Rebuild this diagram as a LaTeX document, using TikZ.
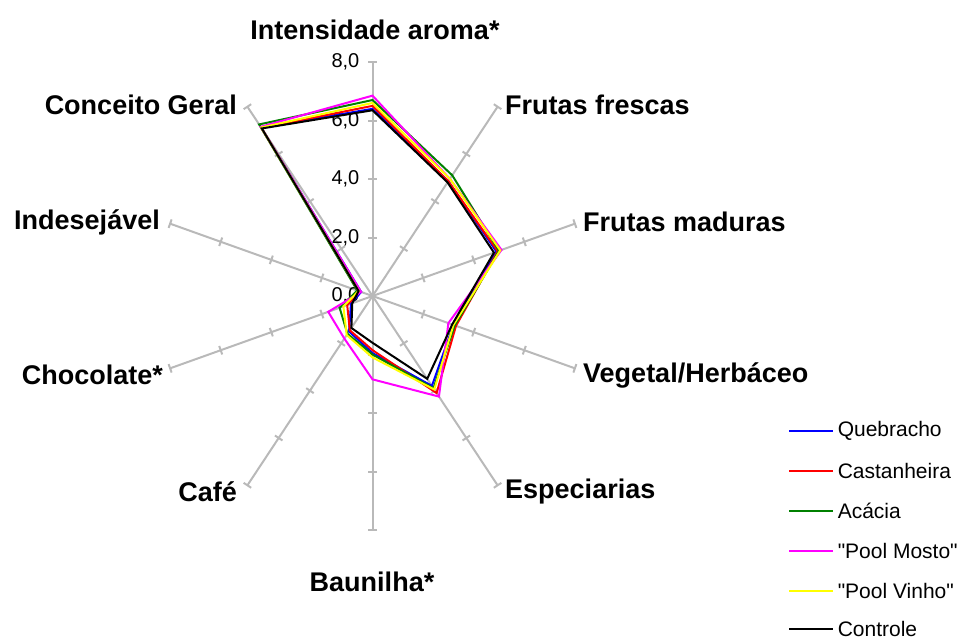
\documentclass[tikz,border=0pt]{standalone}
\usepackage{fontspec}
\setmainfont{Liberation Sans}
\newfontfamily\legendfont{Liberation Sans}
\usepackage{tikz}
\definecolor{quebracho}{RGB}{0,0,255}
\definecolor{castanheira}{RGB}{255,0,0}
\definecolor{acacia}{RGB}{0,128,0}
\definecolor{mosto}{RGB}{255,0,255}
\definecolor{vinho}{RGB}{255,255,0}
\definecolor{gridgray}{RGB}{185,185,185}

\begin{document}
\begin{tikzpicture}[x=1pt, y=-1pt,
		axisline/.style={draw=gridgray, line width=2pt},
		series/.style={line width=2pt, line join=miter},
		axislabel/.style={font=\fontsize{27}{31}\selectfont\bfseries, inner sep=0pt},
		ticklabel/.style={font=\fontsize{20}{23}\selectfont, inner sep=0pt, anchor=east},
		legendtext/.style={font=\legendfont\fontsize{21}{24}\selectfont, text=black, inner sep=0pt, anchor=west}]
	\useasboundingbox (0,0) rectangle (967,642);
	\begin{scope}[shift={(372.5,296)}, x=26.6pt, y=29.25pt]
		% Define axes
		\coordinate (center) at (0,0); % Central point
		\foreach \a in {90,54,18,-18,-54,-90,-126,-162,162,126}{
			\draw[axisline] (center) -- (\a:8);
			\pgfmathsetmacro\sa{atan2(29.25*sin(\a),26.6*cos(\a))}
			\foreach \r in {2,4,6,8}
				\draw[gridgray, line width=2pt] (\a:\r) ++(\sa+90:4.5pt) -- ++(\sa-90:9pt);
		}
		% Scale labels
		\foreach \r in {0,2,4,6,8}
			\node[ticklabel, xshift=-13pt] (tick\r) at (0,\r) {\r,0};
		
		% Series
		\draw[series, quebracho] (90:6.4) -- (54:4.85) -- (18:4.9) -- (-18:3.2) -- (-54:3.8) -- (-90:1.95) -- (-126:1.5) -- (-162:0.85) -- (162:0.45) -- (126:7.1) -- cycle;
		\draw[series, castanheira] (90:6.5) -- (54:4.85) -- (18:4.95) -- (-18:3.3) -- (-54:4.1) -- (-90:1.85) -- (-126:1.45) -- (-162:1.0) -- (162:0.5) -- (126:7.1) -- cycle;
		\draw[series, acacia] (90:6.7) -- (54:5.1) -- (18:5.0) -- (-18:3.25) -- (-54:3.9) -- (-90:2.0) -- (-126:1.6) -- (-162:1.3) -- (162:0.6) -- (126:7.25) -- cycle;
		\draw[series, mosto] (90:6.85) -- (54:4.95) -- (18:5.1) -- (-18:3.0) -- (-54:4.25) -- (-90:2.85) -- (-126:1.8) -- (-162:1.75) -- (162:0.45) -- (126:7.15) -- cycle;
		\draw[series, vinho] (90:6.6) -- (54:4.95) -- (18:5.05) -- (-18:3.2) -- (-54:3.95) -- (-90:2.1) -- (-126:1.65) -- (-162:1.15) -- (162:0.55) -- (126:7.12) -- cycle;
		\draw[series, black] (90:6.35) -- (54:4.8) -- (18:4.8) -- (-18:3.15) -- (-54:3.5) -- (-90:1.6) -- (-126:1.35) -- (-162:0.8) -- (162:0.55) -- (126:7.08) -- cycle;
	\end{scope}
	
	% Axis labels
	\node[axislabel] (aroma) at (375,30) {Intensidade aroma*};
	\node[axislabel, anchor=west] (frescas) at (505,105) {Frutas frescas};
	\node[axislabel, anchor=west] (maduras) at (583,222) {Frutas maduras};
	\node[axislabel, anchor=west] (vegetal) at (583,375) {Vegetal/Herbáceo};
	\node[axislabel, anchor=west] (especiarias) at (505,492) {Especiarias};
	\node[axislabel] (baunilha) at (372,582) {Baunilha*};
	\node[axislabel, anchor=east] (cafe) at (237,492) {Café};
	\node[axislabel, anchor=east] (chocolate) at (163,375) {Chocolate*};
	\node[axislabel, anchor=east] (indesejavel) at (160,222) {Indesejável};
	\node[axislabel, anchor=east] (conceito) at (237,105) {Conceito Geral};
	
	% Legend
	\foreach \y/\col/\name in {431/quebracho/Quebracho, 471/castanheira/Castanheira, 511/acacia/Acácia, 551/mosto/"Pool Mosto", 591/vinho/"Pool Vinho", 629/black/Controle}
		\draw[line width=1.5pt, \col] (789,\y) -- (833,\y) node[legendtext, right=4pt] {\name};
\end{tikzpicture}
\end{document}
